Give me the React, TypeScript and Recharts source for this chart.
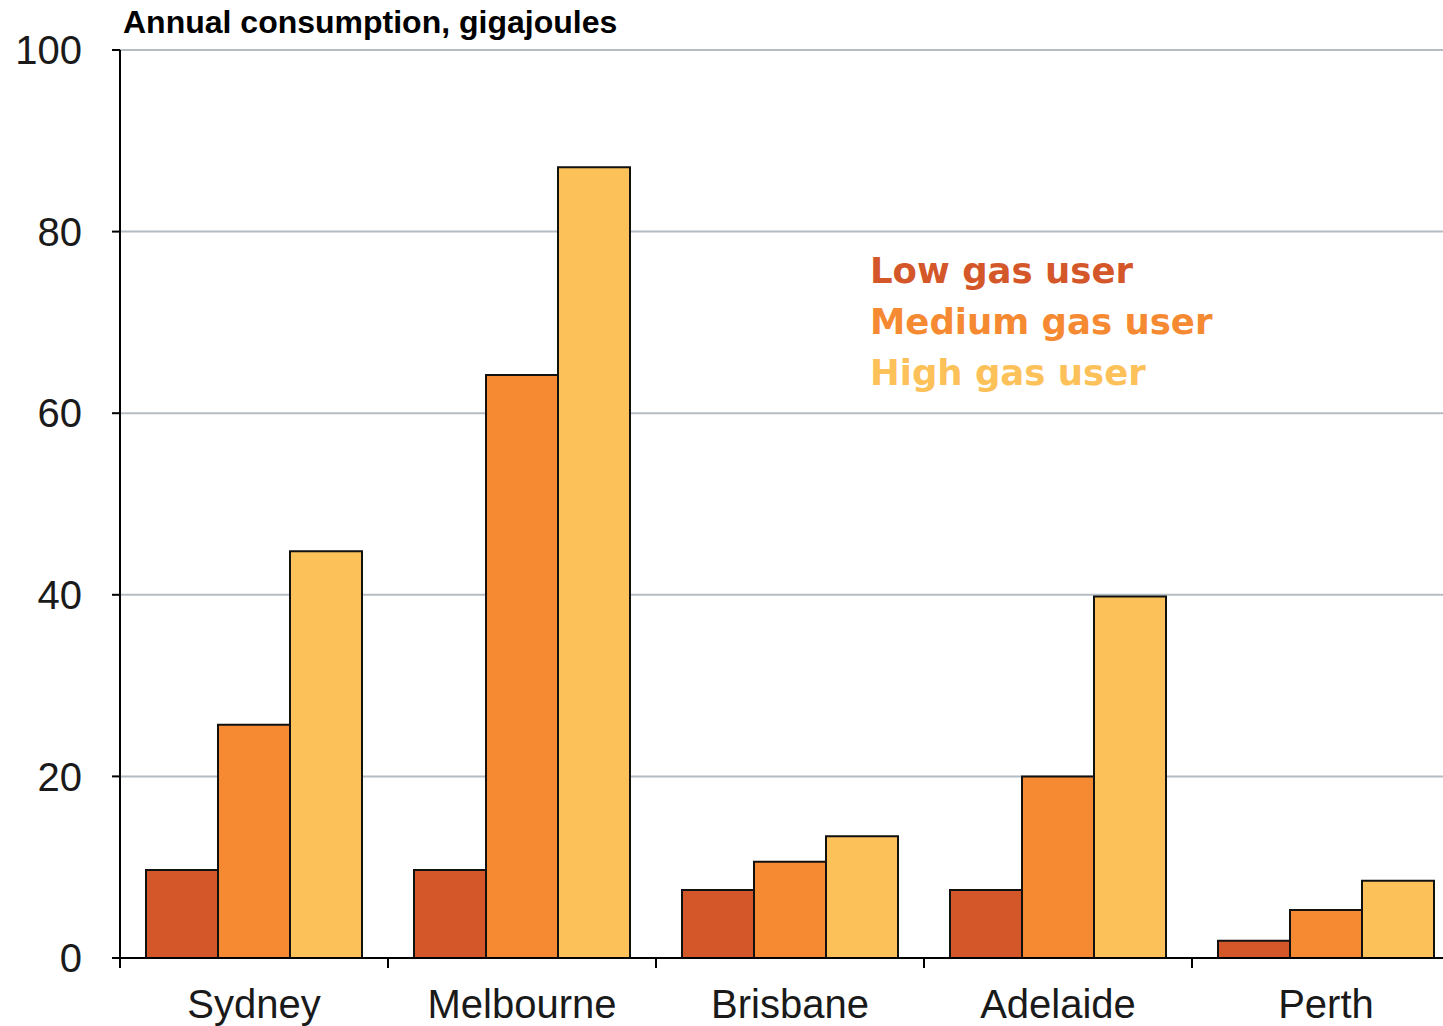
import React from 'react';
import { BarChart, Bar, XAxis, YAxis, CartesianGrid, Legend } from 'recharts';

const cities = ['Sydney', 'Melbourne', 'Brisbane', 'Adelaide', 'Perth'];
const lowUser = [9.7, 9.7, 7.5, 7.5, 1.9];
const mediumUser = [25.7, 64.2, 10.6, 20.0, 5.3];
const highUser = [44.8, 87.1, 13.4, 39.8, 8.5];
const yTicks = [0, 20, 40, 60, 80, 100];

const series = [
  { key: 'low', name: 'Low gas user', color: '#D4572A' },
  { key: 'medium', name: 'Medium gas user', color: '#F58A33' },
  { key: 'high', name: 'High gas user', color: '#FDC15A' },
];

const data = cities.map((city, i) => ({
  city,
  low: lowUser[i],
  medium: mediumUser[i],
  high: highUser[i],
}));

const CHART_W = 1460;
const CHART_H = 1026;
const Y_AXIS_W = 120;
const BAND = (CHART_W - Y_AXIS_W) / cities.length;

const CityTick = ({ x, y, payload }: any) => {
  const left = x - BAND / 2;
  return (
    <g>
      <line x1={left} x2={left} y1={y - 10} y2={y} stroke="#000" strokeWidth={2} />
      <text
        x={x}
        y={y + 50}
        textAnchor="middle"
        fill="#1a1a1a"
        fontSize={40}
        fontFamily="'Liberation Sans', Arial, sans-serif"
      >
        {payload.value}
      </text>
    </g>
  );
};

const TextLegend = () => (
  <div
    style={{
      fontFamily: "'DejaVu Sans', Verdana, sans-serif",
      fontWeight: 'bold',
      fontSize: 35.5,
      lineHeight: '51px',
      whiteSpace: 'nowrap',
    }}
  >
    {series.map((s) => (
      <div key={s.key} style={{ color: s.color }}>
        {s.name}
      </div>
    ))}
  </div>
);

export default function App() {
  return (
    <div
      style={{
        position: 'absolute',
        left: 0,
        top: 0,
        width: 1443,
        height: 1026,
        overflow: 'hidden',
        background: '#fff',
      }}
    >
      <div
        style={{
          position: 'absolute',
          left: 123,
          top: 6,
          fontFamily: "'Liberation Sans', Arial, sans-serif",
          fontWeight: 'bold',
          fontSize: 32,
          lineHeight: '32px',
          color: '#000',
          whiteSpace: 'nowrap',
          zIndex: 2,
        }}
      >
        Annual consumption, gigajoules
      </div>
      <BarChart
        width={CHART_W}
        height={CHART_H}
        data={data}
        margin={{ top: 50, right: 0, left: 0, bottom: 0 }}
        barGap={0}
        barCategoryGap={26}
      >
        <CartesianGrid vertical={false} stroke="#b4bcc4" strokeWidth={2} />
        <XAxis
          dataKey="city"
          height={68}
          axisLine={{ stroke: '#000', strokeWidth: 2 }}
          tickLine={false}
          tickSize={10}
          tickMargin={0}
          interval={0}
          tick={<CityTick />}
        />
        <YAxis
          width={Y_AXIS_W}
          domain={[0, 100]}
          ticks={yTicks}
          interval={0}
          axisLine={{ stroke: '#000', strokeWidth: 2 }}
          tickLine={{ stroke: '#000', strokeWidth: 2 }}
          tickSize={8}
          tickMargin={30}
          tick={{ fill: '#1a1a1a', fontSize: 40, fontFamily: "'Liberation Sans', Arial, sans-serif" }}
        />
        <Legend
          layout="vertical"
          align="center"
          verticalAlign="middle"
          content={<TextLegend />}
          wrapperStyle={{ left: 870, top: 245, width: 'auto' }}
        />
        {series.map((s) => (
          <Bar
            key={s.key}
            dataKey={s.key}
            name={s.name}
            fill={s.color}
            stroke="#111"
            strokeWidth={2}
            isAnimationActive={false}
          />
        ))}
      </BarChart>
    </div>
  );
}
